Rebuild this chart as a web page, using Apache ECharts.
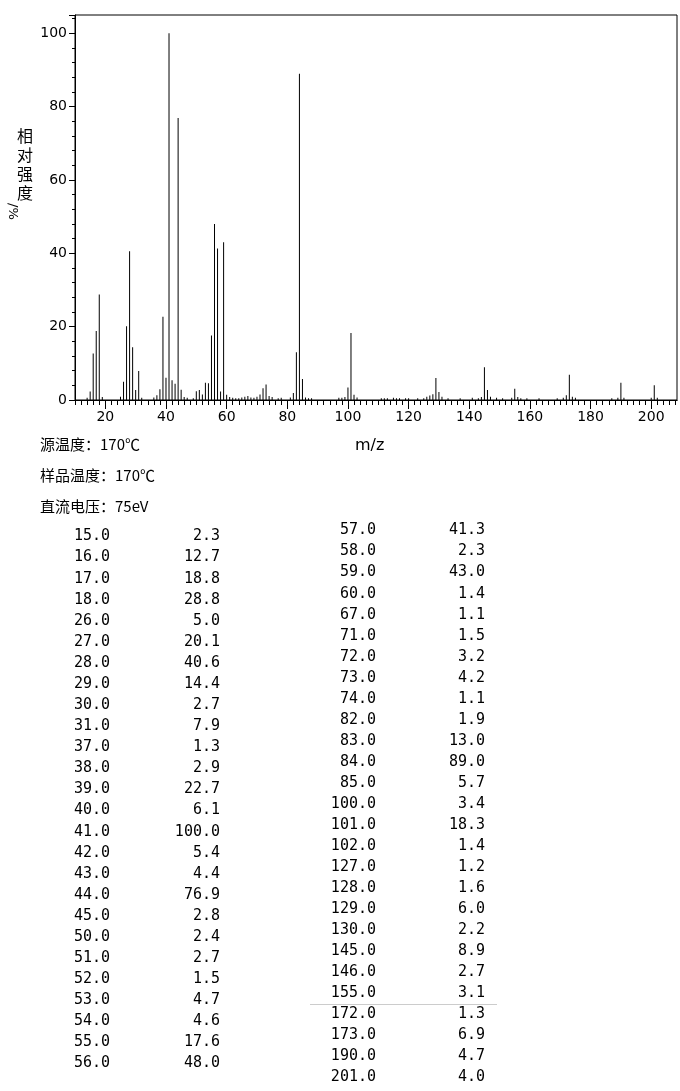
<!DOCTYPE html>
<html>
<head>
<meta charset="utf-8">
<script src="https://cdn.jsdelivr.net/npm/echarts@6/dist/echarts.min.js"></script>
<style>html,body{margin:0;padding:0;background:#fff}#chart{width:680px;height:1091px}</style>
</head>
<body>
<div id="chart"></div>
<script>
// peaks listed in the table
const mz = [15, 16, 17, 18, 26, 27, 28, 29, 30, 31, 37, 38, 39, 40, 41, 42, 43, 44, 45, 50, 51, 52, 53, 54, 55, 56,
  57, 58, 59, 60, 67, 71, 72, 73, 74, 82, 83, 84, 85, 100, 101, 102, 127, 128, 129, 130, 145, 146, 155, 172, 173, 190, 201];
const intensity = [2.3, 12.7, 18.8, 28.8, 5.0, 20.1, 40.6, 14.4, 2.7, 7.9, 1.3, 2.9, 22.7, 6.1, 100.0, 5.4, 4.4, 76.9, 2.8, 2.4, 2.7, 1.5, 4.7, 4.6, 17.6, 48.0,
  41.3, 2.3, 43.0, 1.4, 1.1, 1.5, 3.2, 4.2, 1.1, 1.9, 13.0, 89.0, 5.7, 3.4, 18.3, 1.4, 1.2, 1.6, 6.0, 2.2, 8.9, 2.7, 3.1, 1.3, 6.9, 4.7, 4.0];
// small peaks visible in the plot but below the table cut-off
const minorMz = [14, 19, 25, 32, 36, 46, 47, 49, 61, 62, 63, 64, 65, 66, 68, 69, 70, 75, 77, 78, 81, 86, 87, 88, 97, 98, 99, 103, 111, 112, 113, 115, 116, 117, 119, 120, 123, 125, 126, 131, 133, 137, 141, 143, 144, 147, 149, 151, 154, 156, 157, 159, 163, 169, 171, 174, 175, 187, 189, 191, 200, 202];
const minorInt = [0.6, 0.8, 0.9, 0.6, 0.7, 0.8, 0.6, 0.5, 0.8, 0.6, 0.5, 0.5, 0.7, 0.9, 0.7, 0.6, 0.9, 0.8, 0.5, 0.6, 0.7, 0.7, 0.5, 0.5, 0.6, 0.6, 0.8, 0.7, 0.5, 0.5, 0.5, 0.6, 0.5, 0.5, 0.5, 0.5, 0.5, 0.5, 0.9, 0.9, 0.5, 0.5, 0.6, 0.5, 0.8, 0.9, 0.6, 0.5, 0.6, 0.8, 0.5, 0.5, 0.5, 0.5, 0.6, 0.9, 0.6, 0.5, 0.6, 0.6, 0.6, 0.6];
const xTicks = [20, 40, 60, 80, 100, 120, 140, 160, 180, 200];
const infoLines = ['源温度：170℃', '样品温度：170℃', '直流电压：75eV'];

const chart = echarts.init(document.getElementById('chart'));
const minorTicks = [];
for (let v = 10; v <= 208; v += 2) minorTicks.push(v);

const font = '"DejaVu Sans Mono", monospace';
const graphic = [];
infoLines.forEach((t, i) => {
  graphic.push({type: 'text', left: 40, top: 437 + i * 31, style: {text: t, font: '15px "Noto Sans CJK SC", serif', fill: '#000'}});
});
const leftN = 26;
mz.forEach((m, i) => {
  let xm, xv, y;
  if (i < leftN) { xm = 110; xv = 220; y = 529 + i * 21.08; }
  else { xm = 376; xv = 485; y = 523 + (i - leftN) * 21.04; }
  graphic.push({type: 'text', x: xm, y: y, style: {text: m.toFixed(1), font: '15px ' + font, fill: '#000', align: 'right'}});
  graphic.push({type: 'text', x: xv, y: y, style: {text: intensity[i].toFixed(1), font: '15px ' + font, fill: '#000', align: 'right'}});
});
graphic.push({type: 'line', shape: {x1: 310, y1: 1004.5, x2: 497, y2: 1004.5}, style: {stroke: '#ccc', lineWidth: 1}});
graphic.push({type: 'text', x: 17, y: 126, style: {text: '相\n对\n强\n度', font: '16px "Noto Sans CJK SC"', fill: '#000', lineHeight: 19}});
graphic.push({type: 'text', x: 19, y: 203, rotation: -Math.PI / 2, style: {text: '/%', font: '13px "DejaVu Sans"', fill: '#000'}});
graphic.push({type: 'text', x: 355, y: 438, style: {text: 'm/z', font: '16px "DejaVu Sans"', fill: '#000'}});

const axisBase = {
  type: 'value', min: 10, max: 208.5, position: 'bottom',
  axisLine: {lineStyle: {color: '#000'}}, splitLine: {show: false}
};
chart.setOption({
  backgroundColor: '#fff',
  animation: false,
  grid: {left: 75, right: 3, top: 15, bottom: 691, show: true, borderColor: '#000', borderWidth: 1},
  xAxis: [
    Object.assign({}, axisBase, {
      axisTick: {customValues: minorTicks, length: 5, lineStyle: {color: '#000'}},
      axisLabel: {customValues: xTicks, color: '#000', fontSize: 14, fontFamily: 'DejaVu Sans', margin: 10}
    }),
    Object.assign({}, axisBase, {
      axisTick: {customValues: xTicks, length: 9, lineStyle: {color: '#000'}},
      axisLabel: {show: false}
    })
  ],
  yAxis: {
    type: 'value', min: 0, max: 105, interval: 20,
    axisLine: {show: true, lineStyle: {color: '#000'}},
    axisTick: {show: true, length: 6, lineStyle: {color: '#000'}},
    minorTick: {show: true, splitNumber: 5, length: 3, lineStyle: {color: '#000'}},
    axisLabel: {color: '#000', fontSize: 14, fontFamily: 'DejaVu Sans', customValues: [0, 20, 40, 60, 80, 100]},
    splitLine: {show: false}
  },
  series: [{
    type: 'bar', barWidth: 1, itemStyle: {color: '#000'},
    data: mz.map((m, i) => [m, intensity[i]])
  }, {
    type: 'bar', barWidth: 1, barGap: '-100%', itemStyle: {color: '#000'},
    data: minorMz.map((m, i) => [m, minorInt[i]])
  }],
  graphic: graphic
});
</script>
</body>
</html>
